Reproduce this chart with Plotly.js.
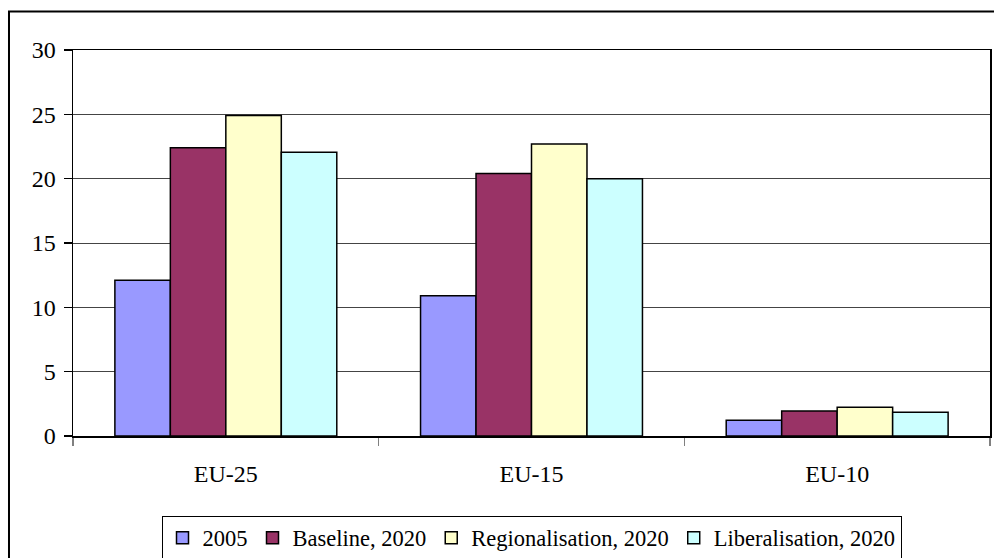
<!DOCTYPE html>
<html>
<head>
<meta charset="utf-8">
<script src="https://cdn.plot.ly/plotly-3.0.1.min.js"></script>
<style>html,body{margin:0;padding:0;background:#fff;}</style>
</head>
<body>
<div id="chart" style="width:994px;height:558px;"></div>
<script>
const categories = ["EU-25", "EU-15", "EU-10"];
const seriesNames = ["2005", "Baseline, 2020", "Regionalisation, 2020", "Liberalisation, 2020"];
const values2005 = [12.1, 10.9, 1.22];
const valuesBaseline = [22.4, 20.4, 1.94];
const valuesRegional = [24.9, 22.7, 2.23];
const valuesLiberal = [22.05, 20.0, 1.84];
const colors = ["#9999FF", "#993366", "#FFFFCC", "#CCFFFF"];
const yTicks = [0, 5, 10, 15, 20, 25, 30];

const allValues = [values2005, valuesBaseline, valuesRegional, valuesLiberal];
const traces = allValues.map((v, i) => ({
  type: "bar",
  name: seriesNames[i],
  x: categories,
  y: v,
  marker: {color: colors[i], line: {color: "#000000", width: 1.5}},
  hoverinfo: "x+y+name"
}));

const font = {family: "Liberation Serif", size: 24, color: "#000"};
const legendFont = {family: "Liberation Serif", size: 22.5, color: "#000"};

const layout = {
  width: 994,
  height: 558,
  margin: {l: 73, r: 4, t: 49.5, b: 122, pad: 0, autoexpand: false},
  paper_bgcolor: "#ffffff",
  plot_bgcolor: "#ffffff",
  font: font,
  barmode: "group",
  bargap: 0.274,
  bargroupgap: 0,
  showlegend: true,
  legend: {
    orientation: "h",
    x: 0.5, xanchor: "center",
    y: -0.206, yanchor: "top",
    bordercolor: "#000000", borderwidth: 1,
    bgcolor: "#ffffff",
    font: legendFont,
    itemwidth: 30,
    traceorder: "normal"
  },
  xaxis: {
    type: "category",
    showgrid: false,
    showline: true, linecolor: "#000000", linewidth: 1.5,
    mirror: true,
    ticks: "outside", tickson: "boundaries", ticklen: 8, tickcolor: "#808080", tickwidth: 1.5,
    ticklabelstandoff: 16,
    tickfont: font,
    zeroline: false
  },
  yaxis: {
    range: [0, 30],
    tickvals: yTicks,
    ticktext: yTicks.map(String),
    showgrid: true, gridcolor: "#444444", gridwidth: 1,
    showline: true, linecolor: "#000000", linewidth: 1.5,
    mirror: true,
    ticks: "outside", ticklen: 8, tickcolor: "#000000", tickwidth: 1.5,
    ticklabelstandoff: 3,
    tickfont: font,
    zeroline: false
  },
  shapes: [{
    type: "rect", xref: "paper", yref: "paper",
    x0: -0.0698, x1: 1.03, y0: -0.4, y1: 1.0996,
    line: {color: "#000000", width: 2},
    fillcolor: "rgba(0,0,0,0)",
    layer: "below"
  }]
};

Plotly.newPlot("chart", traces, layout, {displayModeBar: false, staticPlot: true});
</script>
</body>
</html>
